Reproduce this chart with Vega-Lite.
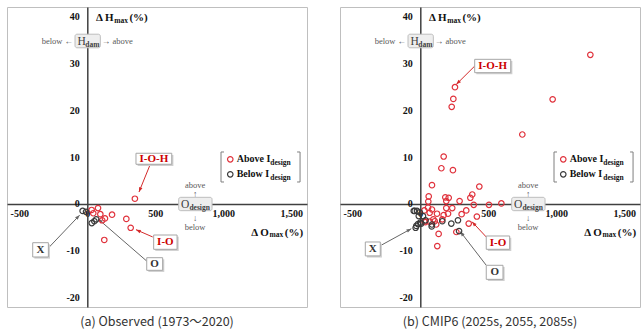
{
  "$schema": "https://vega.github.io/schema/vega-lite/v6.json",
  "padding": {"left": 6, "top": 6, "right": 0, "bottom": 0},
  "background": "white",
  "data": {"values": [
    {"p":"a","t":"pt","g":"Above","x":350,"y":1.1},
    {"p":"a","t":"pt","g":"Above","x":32,"y":-1.3},
    {"p":"a","t":"pt","g":"Above","x":79,"y":-0.9},
    {"p":"a","t":"pt","g":"Above","x":44,"y":-2.0},
    {"p":"a","t":"pt","g":"Above","x":96,"y":-2.2},
    {"p":"a","t":"pt","g":"Above","x":110,"y":-3.5},
    {"p":"a","t":"pt","g":"Above","x":130,"y":-3.1},
    {"p":"a","t":"pt","g":"Above","x":182,"y":-2.3},
    {"p":"a","t":"pt","g":"Above","x":287,"y":-3.2},
    {"p":"a","t":"pt","g":"Above","x":319,"y":-5.1},
    {"p":"a","t":"pt","g":"Above","x":125,"y":-7.7},
    {"p":"a","t":"pt","g":"Below","x":-34,"y":-1.5},
    {"p":"a","t":"pt","g":"Below","x":-9,"y":-1.7},
    {"p":"a","t":"pt","g":"Below","x":33,"y":-4.1},
    {"p":"a","t":"pt","g":"Below","x":52,"y":-3.7},
    {"p":"a","t":"pt","g":"Below","x":66,"y":-3.3},

    {"p":"b","t":"pt","g":"Above","x":1250,"y":31.8},
    {"p":"b","t":"pt","g":"Above","x":255,"y":24.9},
    {"p":"b","t":"pt","g":"Above","x":243,"y":22.4},
    {"p":"b","t":"pt","g":"Above","x":231,"y":20.7},
    {"p":"b","t":"pt","g":"Above","x":973,"y":22.3},
    {"p":"b","t":"pt","g":"Above","x":750,"y":14.8},
    {"p":"b","t":"pt","g":"Above","x":172,"y":10.1},
    {"p":"b","t":"pt","g":"Above","x":155,"y":7.6},
    {"p":"b","t":"pt","g":"Above","x":240,"y":7.2},
    {"p":"b","t":"pt","g":"Above","x":86,"y":4.0},
    {"p":"b","t":"pt","g":"Above","x":62,"y":1.6},
    {"p":"b","t":"pt","g":"Above","x":59,"y":0.5},
    {"p":"b","t":"pt","g":"Above","x":184,"y":1.4},
    {"p":"b","t":"pt","g":"Above","x":209,"y":1.3},
    {"p":"b","t":"pt","g":"Above","x":289,"y":0.6},
    {"p":"b","t":"pt","g":"Above","x":368,"y":1.3},
    {"p":"b","t":"pt","g":"Above","x":382,"y":2.0},
    {"p":"b","t":"pt","g":"Above","x":434,"y":3.7},
    {"p":"b","t":"pt","g":"Above","x":393,"y":-0.2},
    {"p":"b","t":"pt","g":"Above","x":505,"y":-0.2},
    {"p":"b","t":"pt","g":"Above","x":596,"y":0.1},
    {"p":"b","t":"pt","g":"Above","x":57,"y":-0.8},
    {"p":"b","t":"pt","g":"Above","x":86,"y":-1.2},
    {"p":"b","t":"pt","g":"Above","x":69,"y":-1.9},
    {"p":"b","t":"pt","g":"Above","x":30,"y":-1.4},
    {"p":"b","t":"pt","g":"Above","x":123,"y":-2.1},
    {"p":"b","t":"pt","g":"Above","x":191,"y":-0.9},
    {"p":"b","t":"pt","g":"Above","x":235,"y":-0.9},
    {"p":"b","t":"pt","g":"Above","x":191,"y":0.6},
    {"p":"b","t":"pt","g":"Above","x":172,"y":-2.4},
    {"p":"b","t":"pt","g":"Above","x":204,"y":-2.1},
    {"p":"b","t":"pt","g":"Above","x":162,"y":-3.3},
    {"p":"b","t":"pt","g":"Above","x":106,"y":-3.7},
    {"p":"b","t":"pt","g":"Above","x":69,"y":-3.8},
    {"p":"b","t":"pt","g":"Above","x":32,"y":-3.7},
    {"p":"b","t":"pt","g":"Above","x":117,"y":-4.4},
    {"p":"b","t":"pt","g":"Above","x":304,"y":-2.2},
    {"p":"b","t":"pt","g":"Above","x":338,"y":-1.4},
    {"p":"b","t":"pt","g":"Above","x":416,"y":-2.7},
    {"p":"b","t":"pt","g":"Above","x":356,"y":-4.2},
    {"p":"b","t":"pt","g":"Above","x":265,"y":-6.0},
    {"p":"b","t":"pt","g":"Above","x":135,"y":-6.4},
    {"p":"b","t":"pt","g":"Above","x":125,"y":-9.0},
    {"p":"b","t":"pt","g":"Above","x":96,"y":-3.3},
    {"p":"b","t":"pt","g":"Above","x":37,"y":-3.9},
    {"p":"b","t":"pt","g":"Below","x":-41,"y":-1.5},
    {"p":"b","t":"pt","g":"Below","x":-24,"y":-1.5},
    {"p":"b","t":"pt","g":"Below","x":-4,"y":-1.8},
    {"p":"b","t":"pt","g":"Below","x":20,"y":-2.6},
    {"p":"b","t":"pt","g":"Below","x":-29,"y":-4.7},
    {"p":"b","t":"pt","g":"Below","x":-17,"y":-4.3},
    {"p":"b","t":"pt","g":"Below","x":0,"y":-4.0},
    {"p":"b","t":"pt","g":"Below","x":39,"y":-3.5},
    {"p":"b","t":"pt","g":"Below","x":86,"y":-4.4},
    {"p":"b","t":"pt","g":"Below","x":162,"y":-3.7},
    {"p":"b","t":"pt","g":"Below","x":228,"y":-4.2},
    {"p":"b","t":"pt","g":"Below","x":277,"y":-3.5},
    {"p":"b","t":"pt","g":"Below","x":285,"y":-5.8},
    {"p":"b","t":"pt","g":"Below","x":-48,"y":-1.5},
    {"p":"b","t":"pt","g":"Below","x":-11,"y":-2.6},
    {"p":"b","t":"pt","g":"Below","x":-34,"y":-5.1},
    {"p":"b","t":"pt","g":"Below","x":7,"y":-4.2},
    {"p":"b","t":"pt","g":"Below","x":84,"y":-4.8},

    {"p":"a","t":"ttl","x":64,"y":39.0,"text":"Δ H"},
    {"p":"a","t":"sub","x":199,"y":38.6,"text":"max"},
    {"p":"a","t":"ttl","x":310,"y":39.0,"text":"(%)"},
    {"p":"a","t":"ttl","x":1205,"y":-6.75,"text":"Δ O"},
    {"p":"a","t":"sub","x":1340,"y":-7.1,"text":"max"},
    {"p":"a","t":"ttl","x":1452,"y":-6.75,"text":"(%)"},
    {"p":"b","t":"ttl","x":64,"y":39.0,"text":"Δ H"},
    {"p":"b","t":"sub","x":199,"y":38.6,"text":"max"},
    {"p":"b","t":"ttl","x":310,"y":39.0,"text":"(%)"},
    {"p":"b","t":"ttl","x":1205,"y":-6.75,"text":"Δ O"},
    {"p":"b","t":"sub","x":1340,"y":-7.1,"text":"max"},
    {"p":"b","t":"ttl","x":1452,"y":-6.75,"text":"(%)"},

    {"p":"a","t":"gbox","x":-90,"x2":96,"y":36.2,"y2":33.3},
    {"p":"a","t":"gbox","x":672,"x2":917,"y":1.4,"y2":-1.45},
    {"p":"b","t":"gbox","x":-90,"x2":96,"y":36.2,"y2":33.3},
    {"p":"b","t":"gbox","x":672,"x2":917,"y":1.4,"y2":-1.45},
    {"p":"a","t":"bxL","x":-72,"y":33.9,"text":"H"},
    {"p":"a","t":"bxS","x":-14,"y":33.5,"text":"dam"},
    {"p":"a","t":"bxL","x":689,"y":-0.9,"text":"O"},
    {"p":"a","t":"bxS","x":751,"y":-1.4,"text":"design"},
    {"p":"b","t":"bxL","x":-72,"y":33.9,"text":"H"},
    {"p":"b","t":"bxS","x":-14,"y":33.5,"text":"dam"},
    {"p":"b","t":"bxL","x":689,"y":-0.9,"text":"O"},
    {"p":"b","t":"bxS","x":751,"y":-1.4,"text":"design"},
    {"p":"a","t":"gry","x":-220,"y":34.85,"text":"below ←"},
    {"p":"a","t":"gry","x":220,"y":34.85,"text":"→ above"},
    {"p":"a","t":"gry","x":792,"y":4.0,"text":"above"},
    {"p":"a","t":"gry","x":792,"y":2.2,"text":"↑"},
    {"p":"a","t":"gry","x":792,"y":-3.0,"text":"↓"},
    {"p":"a","t":"gry","x":792,"y":-5.0,"text":"below"},
    {"p":"b","t":"gry","x":-220,"y":34.85,"text":"below ←"},
    {"p":"b","t":"gry","x":220,"y":34.85,"text":"→ above"},
    {"p":"b","t":"gry","x":792,"y":4.0,"text":"above"},
    {"p":"b","t":"gry","x":792,"y":2.2,"text":"↑"},
    {"p":"b","t":"gry","x":792,"y":-3.0,"text":"↓"},
    {"p":"b","t":"gry","x":792,"y":-5.0,"text":"below"},

    {"p":"a","t":"brk","x":983,"x2":983,"y":11.07,"y2":4.67},
    {"p":"a","t":"brk","x":983,"x2":1005,"y":11.07,"y2":11.07},
    {"p":"a","t":"brk","x":983,"x2":1005,"y":4.67,"y2":4.67},
    {"p":"a","t":"brk","x":1564,"x2":1564,"y":11.07,"y2":4.67},
    {"p":"a","t":"brk","x":1542,"x2":1564,"y":11.07,"y2":11.07},
    {"p":"a","t":"brk","x":1542,"x2":1564,"y":4.67,"y2":4.67},
    {"p":"b","t":"brk","x":983,"x2":983,"y":11.07,"y2":4.67},
    {"p":"b","t":"brk","x":983,"x2":1005,"y":11.07,"y2":11.07},
    {"p":"b","t":"brk","x":983,"x2":1005,"y":4.67,"y2":4.67},
    {"p":"b","t":"brk","x":1564,"x2":1564,"y":11.07,"y2":4.67},
    {"p":"b","t":"brk","x":1542,"x2":1564,"y":11.07,"y2":11.07},
    {"p":"b","t":"brk","x":1542,"x2":1564,"y":4.67,"y2":4.67},
    {"p":"a","t":"lsym","g":"Above","x":1051,"y":9.51},
    {"p":"a","t":"lsym","g":"Below","x":1051,"y":6.31},
    {"p":"b","t":"lsym","g":"Above","x":1051,"y":9.51},
    {"p":"b","t":"lsym","g":"Below","x":1051,"y":6.31},
    {"p":"a","t":"leg","x":1098,"y":8.83,"text":"Above I"},
    {"p":"a","t":"legS","x":1345,"y":8.3,"text":"design"},
    {"p":"a","t":"leg","x":1098,"y":5.63,"text":"Below I"},
    {"p":"a","t":"legS","x":1345,"y":5.1,"text":"design"},
    {"p":"b","t":"leg","x":1098,"y":8.83,"text":"Above I"},
    {"p":"b","t":"legS","x":1345,"y":8.3,"text":"design"},
    {"p":"b","t":"leg","x":1098,"y":5.63,"text":"Below I"},
    {"p":"b","t":"legS","x":1345,"y":5.1,"text":"design"},

    {"p":"a","t":"arr","s":"red","x":461,"y":8.3,"x2":380,"y2":2.53},
    {"p":"a","t":"arr","s":"red","x":481,"y":-7.06,"x2":358,"y2":-5.5},
    {"p":"a","t":"arr","s":"gry","x":-279,"y":-9.2,"x2":-56,"y2":-2.4},
    {"p":"a","t":"arr","s":"gry","x":437,"y":-12.2,"x2":79,"y2":-3.2},
    {"p":"b","t":"arr","s":"red","x":400,"y":29.4,"x2":265,"y2":25.5},
    {"p":"b","t":"arr","s":"red","x":485,"y":-7.06,"x2":380,"y2":-3.8},
    {"p":"b","t":"arr","s":"gry","x":-286,"y":-8.8,"x2":-66,"y2":-5.3},
    {"p":"b","t":"arr","s":"gry","x":485,"y":-13.1,"x2":294,"y2":-5.9},

    {"p":"a","t":"lbox","x":358,"x2":621,"y":10.8,"y2":8.45},
    {"p":"a","t":"lbox","x":488,"x2":660,"y":-6.64,"y2":-9.69},
    {"p":"a","t":"lbox","x":-401,"x2":-286,"y":-8.28,"y2":-11.33},
    {"p":"a","t":"lbox","x":437,"x2":554,"y":-11.48,"y2":-14.17},
    {"p":"b","t":"lbox","x":400,"x2":665,"y":30.84,"y2":27.99},
    {"p":"b","t":"lbox","x":485,"x2":657,"y":-6.85,"y2":-9.69},
    {"p":"b","t":"lbox","x":-404,"x2":-294,"y":-8.13,"y2":-11.1},
    {"p":"b","t":"lbox","x":485,"x2":608,"y":-13.1,"y2":-16.1},
    {"p":"a","t":"red","x":490,"y":9.6,"text":"I-O-H"},
    {"p":"a","t":"red","x":574,"y":-8.17,"text":"I-O"},
    {"p":"a","t":"blk","x":-344,"y":-9.8,"text":"X"},
    {"p":"a","t":"blk","x":495,"y":-12.8,"text":"O"},
    {"p":"b","t":"red","x":532,"y":29.4,"text":"I-O-H"},
    {"p":"b","t":"red","x":571,"y":-8.3,"text":"I-O"},
    {"p":"b","t":"blk","x":-349,"y":-9.6,"text":"X"},
    {"p":"b","t":"blk","x":547,"y":-14.6,"text":"O"}
  ]},
  "facet": {"column": {"field": "p", "type": "nominal", "title": null,
    "header": {"labelOrient": "bottom", "labelExpr": "datum.value == 'a' ? '(a) Observed (1973～2020)' : '(b) CMIP6 (2025s, 2055, 2085s)'",
      "labelFont": "Noto Sans CJK KR", "labelFontSize": 12.5, "labelColor": "#333333", "labelPadding": 8}}},
  "spacing": 31,
  "resolve": {"axis": {"x": "independent", "y": "independent"}},
  "spec": {
    "width": 300,
    "height": 300,
    "encoding": {
      "x": {"field": "x", "type": "quantitative", "title": null,
        "scale": {"domain": [-590, 1615], "nice": false, "zero": false},
        "axis": {"values": [-500, 0, 500, 1000, 1500], "labelExpr": "datum.value < 0 ? '-' + format(-datum.value, ',') : format(datum.value, ',')"}},
      "y": {"field": "y", "type": "quantitative", "title": null,
        "scale": {"domain": [-22, 42], "nice": false, "zero": false},
        "axis": {"values": [-20, -10, 0, 10, 20, 30, 40], "labelExpr": "datum.value < 0 ? '-' + (-datum.value) : '' + datum.value"}}
    },
    "layer": [
      {"transform": [{"filter": "datum.t == 'arr'"}],
       "mark": {"type": "rule", "strokeWidth": 1},
       "encoding": {"x2": {"field": "x2"}, "y2": {"field": "y2"},
         "stroke": {"field": "s", "type": "nominal", "scale": {"domain": ["red", "gry"], "range": ["#d42a2a", "#666666"]}, "legend": null}}},
      {"transform": [{"filter": "datum.t == 'arr'"},
         {"calculate": "atan2((datum.x2 - datum.x) * 300 / 2205, (datum.y2 - datum.y) * 300 / 64) * 180 / PI", "as": "ang"}],
       "mark": {"type": "point", "shape": "M0,0L-0.6,1.6L0.6,1.6Z", "filled": true, "size": 36, "strokeWidth": 0, "opacity": 1},
       "encoding": {
         "x": {"field": "x2", "type": "quantitative", "title": null},
         "y": {"field": "y2", "type": "quantitative", "title": null},
         "angle": {"field": "ang", "type": "quantitative", "scale": null},
         "fill": {"field": "s", "type": "nominal", "scale": {"domain": ["red", "gry"], "range": ["#d42a2a", "#666666"]}, "legend": null}}},
      {"transform": [{"filter": "datum.t == 'pt' || datum.t == 'lsym'"}],
       "mark": {"type": "point", "filled": false, "size": 30, "strokeWidth": 1.2, "opacity": 1},
       "encoding": {"color": {"field": "g", "type": "nominal", "scale": {"domain": ["Above", "Below"], "range": ["#e0323c", "#3a3a3a"]}, "legend": null}}},
      {"transform": [{"filter": "datum.t == 'gbox'"}],
       "mark": {"type": "rect", "fill": "#eeeeee", "stroke": "#bdbdbd", "strokeWidth": 1, "cornerRadius": 2},
       "encoding": {"x2": {"field": "x2"}, "y2": {"field": "y2"}}},
      {"transform": [{"filter": "datum.t == 'lbox'"},
         {"calculate": "datum.x + 12", "as": "sx"}, {"calculate": "datum.x2 + 12", "as": "sx2"},
         {"calculate": "datum.y - 0.35", "as": "sy"}, {"calculate": "datum.y2 - 0.35", "as": "sy2"}],
       "mark": {"type": "rect", "fill": "#cfcfcf", "strokeWidth": 0},
       "encoding": {"x": {"field": "sx", "type": "quantitative", "title": null}, "x2": {"field": "sx2"},
         "y": {"field": "sy", "type": "quantitative", "title": null}, "y2": {"field": "sy2"}}},
      {"transform": [{"filter": "datum.t == 'lbox'"}],
       "mark": {"type": "rect", "fill": "#ffffff", "stroke": "#a6a6a6", "strokeWidth": 1},
       "encoding": {"x2": {"field": "x2"}, "y2": {"field": "y2"}}},
      {"transform": [{"filter": "datum.t == 'brk'"}],
       "mark": {"type": "rule", "stroke": "#7f7f7f", "strokeWidth": 1},
       "encoding": {"x2": {"field": "x2"}, "y2": {"field": "y2"}}},
      {"transform": [{"filter": "datum.t == 'ttl'"}],
       "mark": {"type": "text", "font": "Liberation Serif", "fontWeight": "bold", "fontSize": 11, "align": "left", "baseline": "alphabetic", "color": "#111111"},
       "encoding": {"text": {"field": "text"}}},
      {"transform": [{"filter": "datum.t == 'sub'"}],
       "mark": {"type": "text", "font": "Liberation Serif", "fontWeight": "bold", "fontSize": 7.5, "align": "left", "baseline": "alphabetic", "color": "#111111"},
       "encoding": {"text": {"field": "text"}}},
      {"transform": [{"filter": "datum.t == 'gry'"}],
       "mark": {"type": "text", "font": "Liberation Serif", "fontSize": 8.5, "align": "center", "baseline": "middle", "color": "#595959"},
       "encoding": {"text": {"field": "text"}}},
      {"transform": [{"filter": "datum.t == 'bxL'"}],
       "mark": {"type": "text", "font": "Liberation Serif", "fontSize": 11.5, "align": "left", "baseline": "alphabetic", "color": "#404040"},
       "encoding": {"text": {"field": "text"}}},
      {"transform": [{"filter": "datum.t == 'bxS'"}],
       "mark": {"type": "text", "font": "Liberation Serif", "fontWeight": "bold", "fontSize": 7.5, "align": "left", "baseline": "alphabetic", "color": "#404040"},
       "encoding": {"text": {"field": "text"}}},
      {"transform": [{"filter": "datum.t == 'red'"}],
       "mark": {"type": "text", "font": "Liberation Serif", "fontWeight": "bold", "fontSize": 11, "align": "center", "baseline": "middle", "color": "#cc0000"},
       "encoding": {"text": {"field": "text"}}},
      {"transform": [{"filter": "datum.t == 'blk'"}],
       "mark": {"type": "text", "font": "Liberation Serif", "fontWeight": "bold", "fontSize": 11, "align": "center", "baseline": "middle", "color": "#333333"},
       "encoding": {"text": {"field": "text"}}},
      {"transform": [{"filter": "datum.t == 'leg'"}],
       "mark": {"type": "text", "font": "Liberation Serif", "fontWeight": "bold", "fontSize": 10, "align": "left", "baseline": "alphabetic", "color": "#111111"},
       "encoding": {"text": {"field": "text"}}},
      {"transform": [{"filter": "datum.t == 'legS'"}],
       "mark": {"type": "text", "font": "Liberation Serif", "fontWeight": "bold", "fontSize": 7.5, "align": "left", "baseline": "alphabetic", "color": "#111111"},
       "encoding": {"text": {"field": "text"}}}
    ]
  },
  "config": {
    "view": {"stroke": "#bfbfbf", "strokeWidth": 1},
    "axis": {"grid": false, "ticks": false, "domainColor": "#404040", "domainWidth": 1.5,
      "labelFont": "Liberation Serif", "labelFontWeight": "bold", "labelFontSize": 10, "labelColor": "#111111"},
    "axisX": {"offset": -103.1, "labelPadding": 5, "labelBaseline": "top", "labelOverlap": false},
    "axisY": {"offset": -80.3, "labelPadding": 8, "labelOverlap": false}
  }
}
